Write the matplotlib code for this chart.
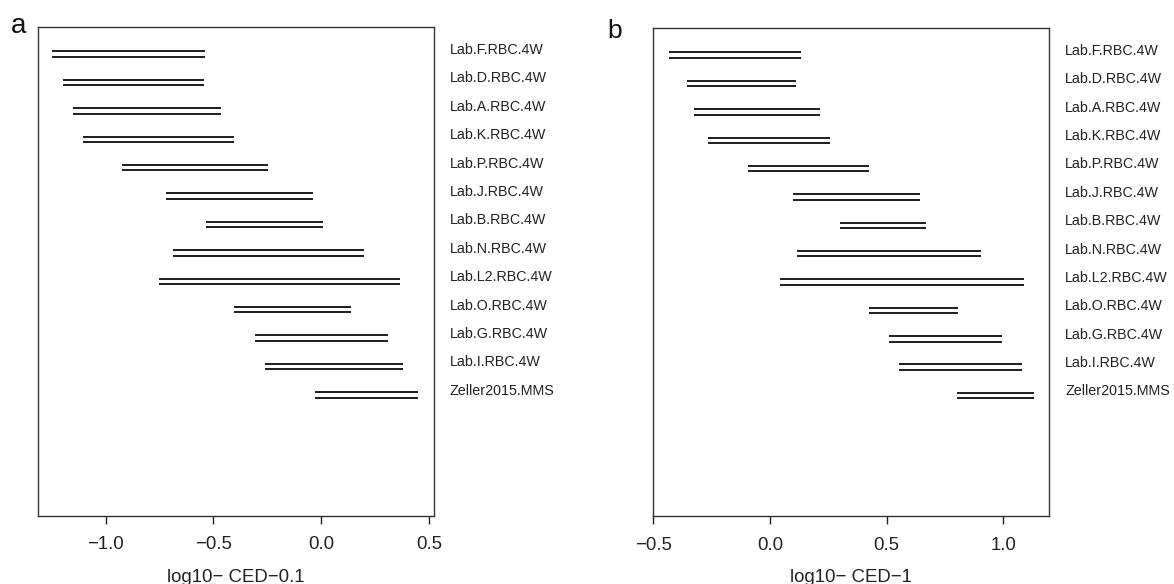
import matplotlib
matplotlib.use("Agg")
import matplotlib.pyplot as plt
import matplotlib.transforms as mtransforms
import numpy as np

plt.rcParams['font.family'] = ['Liberation Sans', 'DejaVu Sans']

labels = ["Lab.F.RBC.4W", "Lab.D.RBC.4W", "Lab.A.RBC.4W", "Lab.K.RBC.4W",
          "Lab.P.RBC.4W", "Lab.J.RBC.4W", "Lab.B.RBC.4W", "Lab.N.RBC.4W",
          "Lab.L2.RBC.4W", "Lab.O.RBC.4W", "Lab.G.RBC.4W", "Lab.I.RBC.4W",
          "Zeller2015.MMS"]

a_low = [-1.248, -1.197, -1.150, -1.104, -0.926, -0.722, -0.535, -0.689,
         -0.751, -0.405, -0.306, -0.259, -0.027]
a_high = [-0.541, -0.545, -0.465, -0.403, -0.248, -0.039, 0.010, 0.197,
          0.366, 0.137, 0.309, 0.380, 0.451]

b_low = [-0.433, -0.354, -0.324, -0.266, -0.096, 0.100, 0.301, 0.114,
         0.043, 0.424, 0.511, 0.553, 0.800]
b_high = [0.133, 0.110, 0.216, 0.256, 0.424, 0.643, 0.670, 0.903,
          1.088, 0.804, 0.994, 1.080, 1.131]

a_ticks = [-1.0, -0.5, 0.0, 0.5]
b_ticks = [-0.5, 0.0, 0.5, 1.0]

W, H = 1174, 584
fig = plt.figure(figsize=(W / 100, H / 100), dpi=100)

def fx(px):
    return px / W

def fy(py):
    return 1 - py / H

line_col = "#1c1c1c"

def panel(left_px, right_px, top_px, bottom_px, low, high, ticks, xlim,
          xlabel, letter, letter_xy, letter_size, lab_x):
    ax = fig.add_axes([fx(left_px), fy(bottom_px),
                       fx(right_px) - fx(left_px), fy(top_px) - fy(bottom_px)])
    n = len(labels)
    y = np.arange(n)
    ax.hlines(y + 0.10, low, high, color=line_col, lw=1.4)
    ax.hlines(y + 0.29, low, high, color=line_col, lw=1.4)
    ax.set_xlim(*xlim)
    ax.set_ylim(16.44, -0.76)
    ax.set_yticks([])
    ax.set_xticks(ticks)
    ax.set_xticklabels([f"{t:.1f}".replace("-", "\u2212") for t in ticks])
    ax.tick_params(axis='x', direction='out', length=6, width=1.0,
                   labelsize=13.4, pad=9, colors="#222222")
    for s in ax.spines.values():
        s.set_color("#333333")
        s.set_linewidth(1.0)
    trans = mtransforms.blended_transform_factory(ax.transAxes, ax.transData)
    for i, lab in enumerate(labels):
        ax.text(lab_x, i + 0.19, lab, transform=trans, ha='left',
                va='baseline', fontsize=10.3, color="#222222", clip_on=False)
    fig.text(fx((left_px + right_px) / 2), fy(581.5), xlabel, ha='center',
             va='baseline', fontsize=13.4, color="#222222")
    fig.text(fx(letter_xy[0]), fy(letter_xy[1]), letter, ha='center',
             va='baseline', fontsize=letter_size, color="#111111")
    return ax

panel(37.5, 434, 27, 515.5, a_low, a_high, a_ticks, (-1.3165, 0.523),
      "log10\u2212 CED\u22120.1", "a", (19, 33.3), 20, 1.040)
panel(653, 1048.5, 28, 516, b_low, b_high, b_ticks, (-0.501, 1.193),
      "log10\u2212 CED\u22121", "b", (615, 38), 19, 1.042)

fig.savefig("out.png", dpi=100, facecolor="white")
